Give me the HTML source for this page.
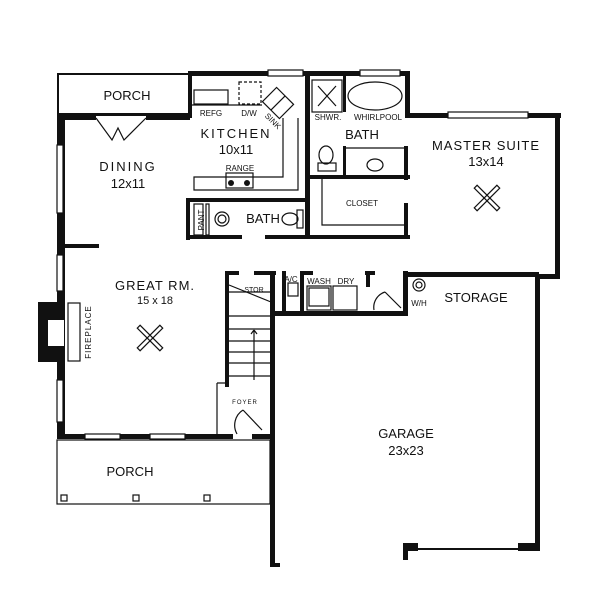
<!DOCTYPE html>
<html><head><style>
html,body{margin:0;padding:0;background:#fff;}
svg{display:block;}
text{font-family:"Liberation Sans",sans-serif;fill:#111;}
</style></head><body>
<svg width="600" height="592" viewBox="0 0 600 592" xmlns="http://www.w3.org/2000/svg">
<rect width="600" height="592" fill="#fff"/>
<g fill="#111">
<!-- top porch -->
<rect x="57" y="73" width="134" height="2"/>
<rect x="57" y="73" width="2" height="45"/>
<rect x="57" y="113" width="134" height="3"/>
<rect x="188" y="73" width="4" height="45"/>
<!-- top wall -->
<rect x="188" y="71" width="222" height="5"/>
<rect x="405" y="71" width="5" height="47"/>
<rect x="405" y="113" width="156" height="5"/>
<rect x="555" y="113" width="5" height="166"/>
<rect x="538" y="274" width="22" height="5"/>
<rect x="535" y="274" width="5" height="276"/>
<rect x="518" y="543" width="22" height="8"/>
<rect x="403" y="543" width="15" height="8"/>
<rect x="403" y="543" width="5" height="17"/>
<rect x="418" y="548" width="100" height="2"/>
<!-- left wall -->
<rect x="57" y="116" width="8" height="323"/>
<rect x="61" y="116" width="35" height="4"/>
<rect x="146" y="116" width="44" height="4"/>
<rect x="62" y="244" width="37" height="4"/>
<!-- bottom great room wall -->
<rect x="57" y="434" width="176" height="5"/>
<rect x="252" y="434" width="20" height="5"/>
<!-- kitchen/bath walls -->
<rect x="305" y="73" width="5" height="166"/>
<rect x="186" y="198" width="122" height="4"/>
<rect x="186" y="198" width="4" height="42"/>
<rect x="186" y="235" width="56" height="4"/>
<rect x="265" y="235" width="43" height="4"/>
<rect x="305" y="175" width="105" height="4"/>
<rect x="305" y="235" width="105" height="4"/>
<rect x="404" y="146" width="4" height="34"/>
<rect x="404" y="203" width="4" height="36"/>
<rect x="343" y="146" width="3" height="32"/>
<rect x="343" y="76" width="3" height="36"/>
<!-- stairs / laundry / garage -->
<rect x="225" y="271" width="4" height="116"/>
<rect x="225" y="271" width="14" height="4"/>
<rect x="254" y="271" width="22" height="4"/>
<rect x="270" y="271" width="5" height="296"/>
<rect x="270" y="563" width="10" height="4"/>
<rect x="270" y="311" width="138" height="5"/>
<rect x="282" y="271" width="4" height="44"/>
<rect x="300" y="271" width="4" height="44"/>
<rect x="303" y="271" width="10" height="4"/>
<rect x="365" y="271" width="10" height="4"/>
<rect x="366" y="271" width="4" height="16"/>
<rect x="403" y="271" width="5" height="44"/>
<rect x="403" y="272" width="136" height="5"/>
<!-- fireplace -->
<rect x="38" y="302" width="26" height="60"/>
</g>
<g fill="none" stroke="#111" stroke-width="1.2">
<!-- windows -->
<rect x="57" y="145" width="6" height="68" fill="#fff"/>
<rect x="57" y="255" width="6" height="36" fill="#fff"/>
<rect x="57" y="380" width="6" height="42" fill="#fff"/>
<rect x="268" y="70" width="35" height="6" fill="#fff"/>
<rect x="360" y="70" width="40" height="6" fill="#fff"/>
<rect x="448" y="112" width="80" height="6" fill="#fff"/>
<rect x="85" y="434" width="35" height="5" fill="#fff"/>
<rect x="150" y="434" width="35" height="5" fill="#fff"/>
<!-- hearth -->
<rect x="68" y="303" width="12" height="58" fill="#fff"/>
<rect x="48" y="320" width="16" height="26" fill="#fff" stroke="none"/>
<!-- dining doors -->
<path d="M96 118 L112 140 L118 128 L124 140 L146 118"/>
<!-- kitchen counters -->
<rect x="194" y="90" width="34" height="14"/>
<rect x="239" y="82" width="22" height="22" stroke-dasharray="3 2"/>
<path d="M192 105 H262"/>
<path d="M283 118 V177 H194 V190 H298 V118"/>
<rect x="226" y="173" width="27" height="15"/>
<g transform="rotate(45 278 103)"><rect x="266" y="93" width="24" height="20"/><line x1="278" y1="93" x2="278" y2="113"/></g>
<!-- bath fixtures -->
<rect x="194" y="204" width="9" height="31"/>
<rect x="206" y="204" width="3" height="31"/>
<circle cx="222" cy="219" r="7"/><circle cx="222" cy="219" r="4"/>
<ellipse cx="290" cy="219" rx="8" ry="6"/><rect x="297" y="210" width="6" height="18"/>
<rect x="312" y="80" width="30" height="32"/><path d="M318 86 L336 106 M336 86 L318 106"/>
<ellipse cx="375" cy="96" rx="27" ry="14"/>
<ellipse cx="326" cy="155" rx="7" ry="9"/><rect x="318" y="163" width="18" height="8"/>
<ellipse cx="375" cy="165" rx="8" ry="6"/>
<path d="M345 148 H408"/>
<path d="M322 179 V225 H405"/>
<!-- stairs -->
<path d="M229 292 H271 M229 316 H271 M229 329 H271 M229 341 H271 M229 352 H271 M229 363 H271 M229 376 H271"/>
<path d="M229 285 L271 302"/>
<path d="M254 380 V330 M254 330 l-3 4 M254 330 l3 4"/>
<path d="M217 383 H229 M217 383 V437"/>
<path d="M243 410 L262 430 M243 410 A18 18 0 0 0 237 434"/>
<!-- laundry -->
<rect x="288" y="283" width="10" height="13"/>
<rect x="307" y="286" width="24" height="24"/><rect x="309" y="288" width="20" height="18"/>
<rect x="333" y="286" width="24" height="24"/>
<path d="M385 292 L401 308 M385 292 A16 16 0 0 0 374 310"/>
<circle cx="419" cy="285" r="6"/><circle cx="419" cy="285" r="3"/>
<!-- porch -->
<rect x="57" y="440" width="213" height="64"/>
<rect x="61" y="495" width="6" height="6"/><rect x="133" y="495" width="6" height="6"/><rect x="204" y="495" width="6" height="6"/>
<!-- fans -->
<g transform="translate(150 338)"><g transform="rotate(45)"><rect x="-16" y="-2" width="32" height="4"/><rect x="-2" y="-16" width="4" height="32"/></g></g>
<g transform="translate(487 198)"><g transform="rotate(45)"><rect x="-16" y="-2" width="32" height="4"/><rect x="-2" y="-16" width="4" height="32"/></g></g>
</g>
<circle cx="231" cy="183" r="3" fill="#111"/><circle cx="247" cy="183" r="3" fill="#111"/>
<g text-anchor="middle" font-size="13">
<text x="127" y="100">PORCH</text>
<text x="236" y="138" letter-spacing="2">KITCHEN</text>
<text x="236" y="154">10x11</text>
<text x="128" y="171" letter-spacing="2">DINING</text>
<text x="128" y="188">12x11</text>
<text x="155" y="290" letter-spacing="1">GREAT RM.</text>
<text x="155" y="304" font-size="11">15 x 18</text>
<text x="486" y="150" letter-spacing="1">MASTER SUITE</text>
<text x="486" y="166">13x14</text>
<text x="362" y="139">BATH</text>
<text x="263" y="223">BATH</text>
<text x="406" y="438">GARAGE</text>
<text x="406" y="455">23x23</text>
<text x="476" y="302">STORAGE</text>
<text x="130" y="476">PORCH</text>
</g>
<g text-anchor="middle" font-size="8">
<text x="211" y="116">REFG</text>
<text x="249" y="116">D/W</text>
<text x="271" y="123" transform="rotate(45 271 123)">SINK</text>
<text x="240" y="171">RANGE</text>
<text x="328" y="120">SHWR.</text>
<text x="378" y="120">WHIRLPOOL</text>
<text x="362" y="206">CLOSET</text>
<text x="254" y="292" font-size="7">STOR</text>
<text x="291" y="282">A/C</text>
<text x="319" y="284">WASH</text>
<text x="346" y="284">DRY</text>
<text x="419" y="306">W/H</text>
<text x="245" y="404" font-size="6" letter-spacing="1">FOYER</text>
<text x="0" y="0" transform="translate(204 220) rotate(-90)">PANT</text>
<text x="0" y="0" transform="translate(91 332) rotate(-90)" letter-spacing="1">FIREPLACE</text>
</g>
</svg>
</body></html>
